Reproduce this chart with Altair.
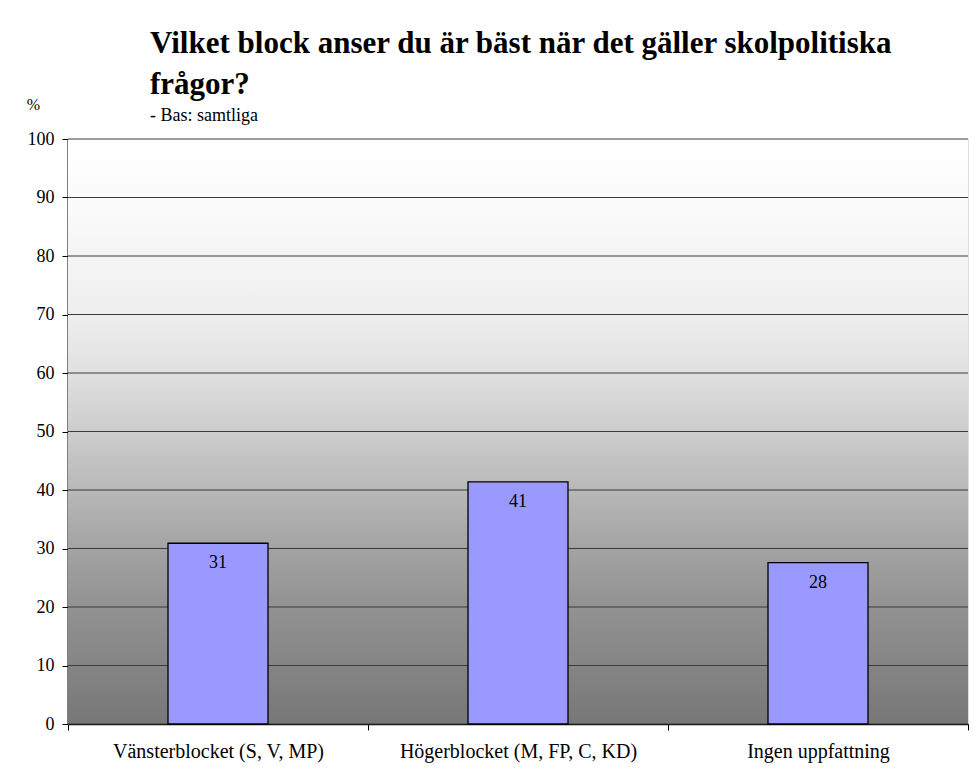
import altair as alt
import pandas as pd

categories = ["Vänsterblocket (S, V, MP)", "Högerblocket (M, FP, C, KD)", "Ingen uppfattning"]
values = [30.9, 41.4, 27.6]
y_ticks = [0, 10, 20, 30, 40, 50, 60, 70, 80, 90, 100]

df = pd.DataFrame({"kategori": categories, "procent": values})
grid_df = pd.DataFrame({"tick": y_ticks})

SERIF = "Liberation Serif"

x_enc = alt.X(
    "kategori:N",
    sort=categories,
    scale=alt.Scale(paddingInner=0, paddingOuter=0),
    axis=alt.Axis(
        title=None, labelAngle=0, tickBand="extent", grid=False, labelLimit=400,
        domainColor="#000000", domainWidth=1.5, tickColor="#000000", tickSize=6,
        labelFont=SERIF, labelFontSize=20, labelColor="#000000", labelPadding=11,
    ),
)
y_scale = alt.Scale(domain=[0, 100], nice=False, zero=True)

background = alt.Chart(grid_df).mark_rect(
    color=alt.Gradient(
        gradient="linear", x1=0, x2=0, y1=0, y2=1,
        stops=[
            alt.GradientStop(offset=0.0, color="#FFFFFF"),
            alt.GradientStop(offset=0.1, color="#FBFBFB"),
            alt.GradientStop(offset=0.3, color="#EEEEEE"),
            alt.GradientStop(offset=0.4, color="#E0E0E0"),
            alt.GradientStop(offset=0.5, color="#CDCDCD"),
            alt.GradientStop(offset=0.6, color="#B8B8B8"),
            alt.GradientStop(offset=0.7, color="#A3A3A3"),
            alt.GradientStop(offset=0.8, color="#929292"),
            alt.GradientStop(offset=0.9, color="#858585"),
            alt.GradientStop(offset=1.0, color="#777777"),
        ],
    )
).encode(
    y=alt.Y("min(tick):Q", scale=y_scale,
            axis=alt.Axis(
                title="%", titleAngle=0, titleX=-35, titleY=-30, titleAlign="center",
                titleBaseline="alphabetic", titleFont=SERIF, titleFontSize=16,
                titleFontWeight="normal", titleColor="#000000",
                values=y_ticks, grid=False,
                domainColor="#000000", domainWidth=2, tickColor="#000000", tickSize=6,
                labelFont=SERIF, labelFontSize=18, labelColor="#000000", labelPadding=8,
            )),
    y2="max(tick):Q",
)

gridlines = alt.Chart(grid_df).mark_rule(color="#3a3a3a", strokeWidth=1).encode(
    y=alt.Y("tick:Q", scale=y_scale),
)

bars = alt.Chart(df).mark_bar(
    width=alt.RelativeBandSize(1 / 3), color="#9999FF", stroke="#000000", strokeWidth=1.3
).encode(
    x=x_enc,
    y=alt.Y("procent:Q", scale=y_scale),
)

labels = alt.Chart(df).mark_text(
    baseline="top", dy=11, font=SERIF, fontSize=18, color="#000000"
).encode(
    x=alt.X("kategori:N", sort=categories),
    y=alt.Y("procent:Q", scale=y_scale),
    text=alt.Text("procent:Q", format=".0f"),
)

chart = alt.layer(background, gridlines, bars, labels).properties(
    width=900,
    height=585,
    title=alt.TitleParams(
        text=["Vilket block anser du är bäst när det gäller skolpolitiska", "frågor?"],
        subtitle="- Bas: samtliga",
        anchor="start", frame="group", dx=82, offset=-30,
        font=SERIF, fontSize=31, fontWeight="bold", color="#000000", lineHeight=41,
        subtitleFont=SERIF, subtitleFontSize=18, subtitleColor="#000000", subtitlePadding=6,
    ),
    autosize=alt.AutoSizeParams(type="none"),
    padding={"left": 60, "top": 131, "right": 2, "bottom": 41},
).configure_view(
    stroke="#000000", strokeWidth=1
).configure(background="#FFFFFF")

chart.save("out.html", embed_options={"renderer": "svg", "actions": False})
